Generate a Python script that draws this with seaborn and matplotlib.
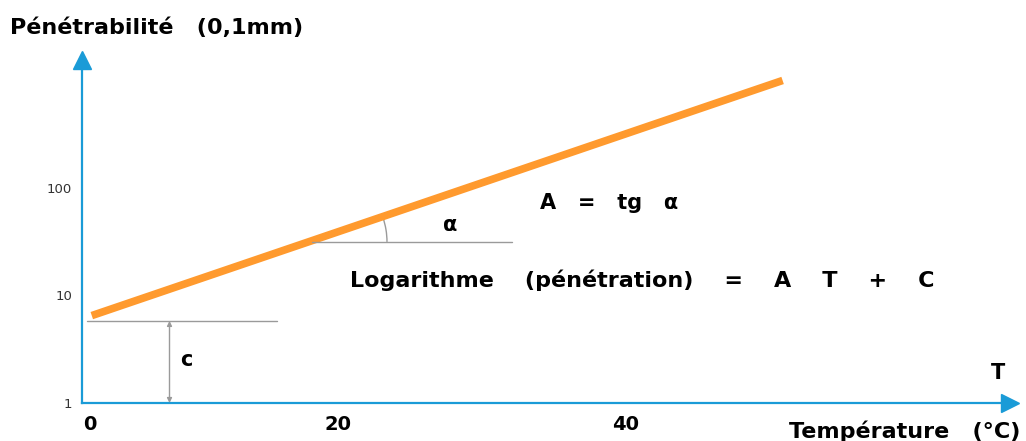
import matplotlib
matplotlib.use("Agg")
import matplotlib.pyplot as plt
import seaborn as sns
import pandas as pd
from matplotlib.patches import Arc
from matplotlib.transforms import IdentityTransform

# data
temp = [2.9, 50.9]          # T (°C), ends of the orange line
penetration = [6.5, 1000]   # 0,1 mm, log scale
c_level = 5.8               # intercept level marked "c"
alpha_level = 31.5          # horizontal reference for angle alpha
alpha_line = [18.2, 32.1]   # T range of that reference line
c_line = [2.6, 15.8]        # T range of the c reference line
c_arrow_t = 8.3
x_ticks = [20, 40, 60]
x_tick_labels = ["20", "40", ""]
y_ticks = [1, 10, 100]
y_tick_labels = ["1", "10", "100"]

blue = "#1a9bd7"
orange = "#ff9a2e"
grey = "#9a9a9a"

sns.set_style("white")
plt.rcParams["font.family"] = ["DejaVu Sans"]

fig = plt.figure(figsize=(10.26, 4.41), dpi=100)
ax = fig.add_axes([82 / 1026, 38 / 441, (1010 - 82) / 1026, (403 - 60) / 441])

df = pd.DataFrame({"T": temp, "P": penetration})
sns.lineplot(data=df, x="T", y="P", color=orange, linewidth=5.5,
             solid_capstyle="butt", ax=ax)

ax.set_yscale("log")
ax.set_xlim(2.22, 66.7)
ax.set_ylim(1, 1550)

# reference lines
ax.plot(c_line, [c_level, c_level], color=grey, lw=1)
ax.plot(alpha_line, [alpha_level, alpha_level], color=grey, lw=1)
ax.annotate("", xy=(c_arrow_t, 1), xytext=(c_arrow_t, c_level),
            arrowprops=dict(arrowstyle="<|-|>", color=grey, lw=1,
                            mutation_scale=7, shrinkA=0, shrinkB=0))

# spines / ticks
for s in ["top", "right"]:
    ax.spines[s].set_visible(False)
for s in ["left", "bottom"]:
    ax.spines[s].set_color(blue)
    ax.spines[s].set_linewidth(1.6)
ax.plot(1, 0, ">", color=blue, ms=13, transform=ax.transAxes, clip_on=False)
ax.plot(0, 1, "^", color=blue, ms=13, transform=ax.transAxes, clip_on=False)

ax.set_xticks(x_ticks)
ax.set_xticklabels(x_tick_labels, fontsize=14, fontweight="bold", color="black")
ax.set_yticks(y_ticks)
ax.set_yticklabels(y_tick_labels, fontsize=9.5, color="#333333")
ax.minorticks_off()
ax.tick_params(axis="x", direction="in", length=11, width=1.3, color=blue, pad=9,
               labelcolor="black")
ax.tick_params(axis="y", direction="in", length=12.5, width=1.3, color=blue, pad=7)
ax.set_xlabel("")
ax.set_ylabel("")

# angle arc
fig.canvas.draw()
cx, cy = ax.transData.transform((18.2, alpha_level))
ax.add_patch(Arc((cx, cy), 150, 150, theta1=0, theta2=19, color=grey, lw=1,
                 transform=IdentityTransform()))

# texts
bold = dict(fontweight="bold", color="black")
fig.text(10 / 1026, 1 - 28 / 441, "Pénétrabilité   (0,1mm)", fontsize=16,
         ha="left", va="center", **bold)
fig.text(1020 / 1026, 1 - 431 / 441, "Température   (°C)", fontsize=16,
         ha="right", va="center", **bold)
fig.text(998 / 1026, 1 - 373 / 441, "T", fontsize=15, ha="center", va="center", **bold)
fig.text(90 / 1026, 1 - 425 / 441, "0", fontsize=14, ha="center", va="center", **bold)
fig.text(186 / 1026, 1 - 360 / 441, "c", fontsize=15, ha="center", va="center", **bold)
fig.text(450 / 1026, 1 - 225 / 441, "α", fontsize=15, ha="center", va="center", **bold)
fig.text(540 / 1026, 1 - 203 / 441, "A   =   tg   α", fontsize=15,
         ha="left", va="center", **bold)
fig.text(350 / 1026, 1 - 280 / 441, "Logarithme    (pénétration)    =    A    T    +    C",
         fontsize=16, ha="left", va="center", **bold)

fig.savefig("out.png", dpi=100)
